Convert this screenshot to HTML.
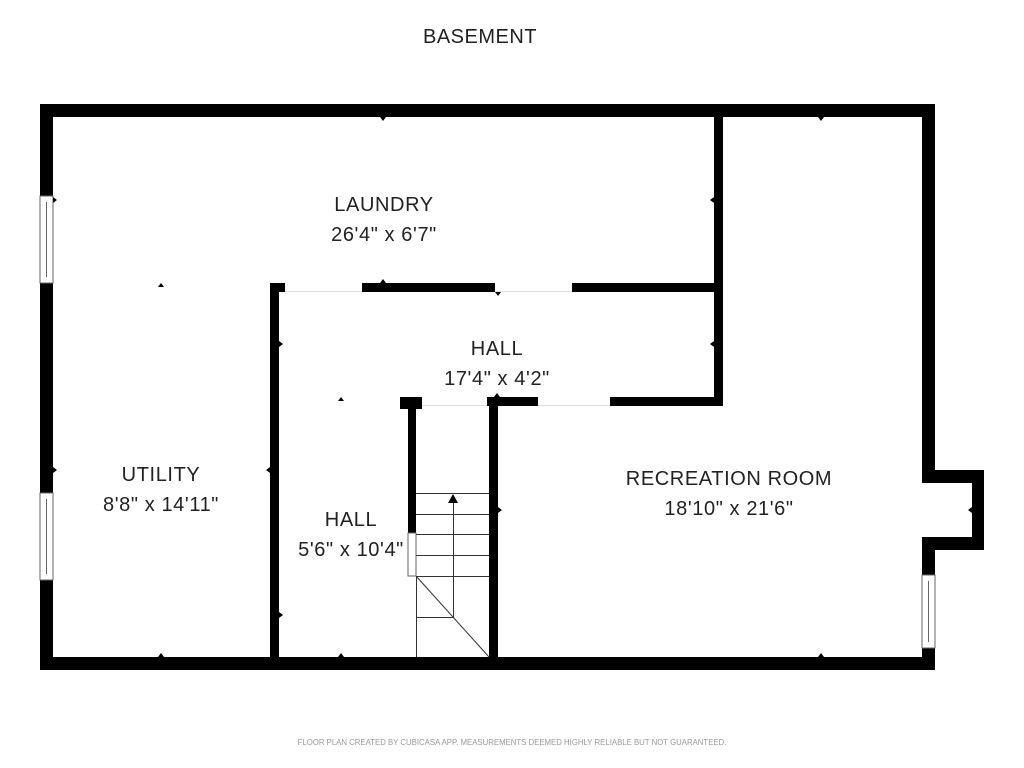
<!DOCTYPE html>
<html><head><style>
body{margin:0;width:1024px;height:768px;background:#fff;overflow:hidden}
svg{display:block}
text{font-family:"Liberation Sans","DejaVu Sans",sans-serif;fill:#222}
</style></head><body>
<svg width="1024" height="768" xmlns="http://www.w3.org/2000/svg">
<g fill="#000">
<rect x="40" y="104" width="894" height="13"/>
<rect x="40" y="104" width="13" height="566"/>
<rect x="40" y="657" width="894" height="13"/>
<rect x="922" y="104" width="13" height="379"/>
<rect x="922" y="470" width="62" height="13"/>
<rect x="972" y="470" width="12" height="80"/>
<rect x="922" y="537" width="62" height="13"/>
<rect x="922" y="537" width="13" height="133"/>
<rect x="714" y="117" width="9" height="288"/>
<rect x="270" y="283" width="15" height="9"/>
<rect x="362" y="283" width="133" height="9"/>
<rect x="572" y="283" width="145" height="9"/>
<rect x="270" y="283" width="9" height="387"/>
<rect x="400" y="397" width="22" height="12"/>
<rect x="487" y="397" width="51" height="9"/>
<rect x="610" y="397" width="113" height="9"/>
<rect x="408" y="397" width="8" height="136"/>
<rect x="489" y="397" width="9" height="270"/>
</g>
<g fill="#fff" stroke="#666" stroke-width="1">
<rect x="40" y="196" width="13" height="87"/>
<rect x="40" y="493" width="13" height="87"/>
<rect x="922" y="575" width="13" height="73"/>
<rect x="408" y="533" width="8" height="43"/>
</g>
<g stroke="#666" stroke-width="1">
<line x1="46.5" y1="202" x2="46.5" y2="277"/>
<line x1="46.5" y1="499" x2="46.5" y2="574"/>
<line x1="928.5" y1="581" x2="928.5" y2="642"/>
</g>
<g stroke="#ddd" stroke-width="1">
<line x1="285" y1="291.5" x2="362" y2="291.5"/>
<line x1="495" y1="291.5" x2="572" y2="291.5"/>
<line x1="422" y1="405.5" x2="487" y2="405.5"/>
<line x1="538" y1="405.5" x2="610" y2="405.5"/>
</g>
<g stroke="#333" stroke-width="1" fill="none">
<line x1="416" y1="493.5" x2="489" y2="493.5"/>
<line x1="416" y1="514.5" x2="489" y2="514.5"/>
<line x1="416" y1="534.5" x2="489" y2="534.5"/>
<line x1="416" y1="555.5" x2="489" y2="555.5"/>
<line x1="416" y1="576.5" x2="489" y2="576.5"/>
<line x1="416.5" y1="576" x2="416.5" y2="657"/>
<line x1="416" y1="576" x2="489" y2="657"/>
<line x1="453.5" y1="500" x2="453.5" y2="617"/>
<line x1="416" y1="617.5" x2="453" y2="617.5"/>
</g>
<polygon points="453,494 448,503 458,503" fill="#000"/>
<g fill="#000">
<polygon points="380,117 386,117 383,121"/>
<polygon points="818,117 824,117 821,121"/>
<polygon points="380,283 386,283 383,279"/>
<polygon points="495,292 501,292 498,296"/>
<polygon points="494,397 500,397 497,393"/>
<polygon points="158,287 164,287 161,283"/>
<polygon points="338,401 344,401 341,397"/>
<polygon points="158,657 164,657 161,653"/>
<polygon points="338,657 344,657 341,653"/>
<polygon points="818,657 824,657 821,653"/>
<polygon points="53,197 53,203 57,200"/>
<polygon points="53,467 53,473 57,470"/>
<polygon points="714,197 714,203 710,200"/>
<polygon points="279,341 279,347 283,344"/>
<polygon points="714,341 714,347 710,344"/>
<polygon points="270,467 270,473 266,470"/>
<polygon points="279,612 279,618 283,615"/>
<polygon points="498,507 498,513 502,510"/>
<polygon points="972,507 972,513 968,510"/>
</g>
<text x="480" y="43" font-size="20" text-anchor="middle" letter-spacing="0.5">BASEMENT</text>
<g font-size="20" text-anchor="middle" letter-spacing="0.6">
<text x="384" y="211">LAUNDRY</text>
<text x="384" y="241">26'4" x 6'7"</text>
<text x="497" y="355">HALL</text>
<text x="497" y="385">17'4" x 4'2"</text>
<text x="161" y="481">UTILITY</text>
<text x="161" y="511">8'8" x 14'11"</text>
<text x="351" y="526">HALL</text>
<text x="351" y="556">5'6" x 10'4"</text>
<text x="729" y="485">RECREATION ROOM</text>
<text x="729" y="515">18'10" x 21'6"</text>
</g>
<text x="512" y="745" font-size="7.8" text-anchor="middle" style="fill:#999">FLOOR PLAN CREATED BY CUBICASA APP. MEASUREMENTS DEEMED HIGHLY RELIABLE BUT NOT GUARANTEED.</text>
</svg>
</body></html>
